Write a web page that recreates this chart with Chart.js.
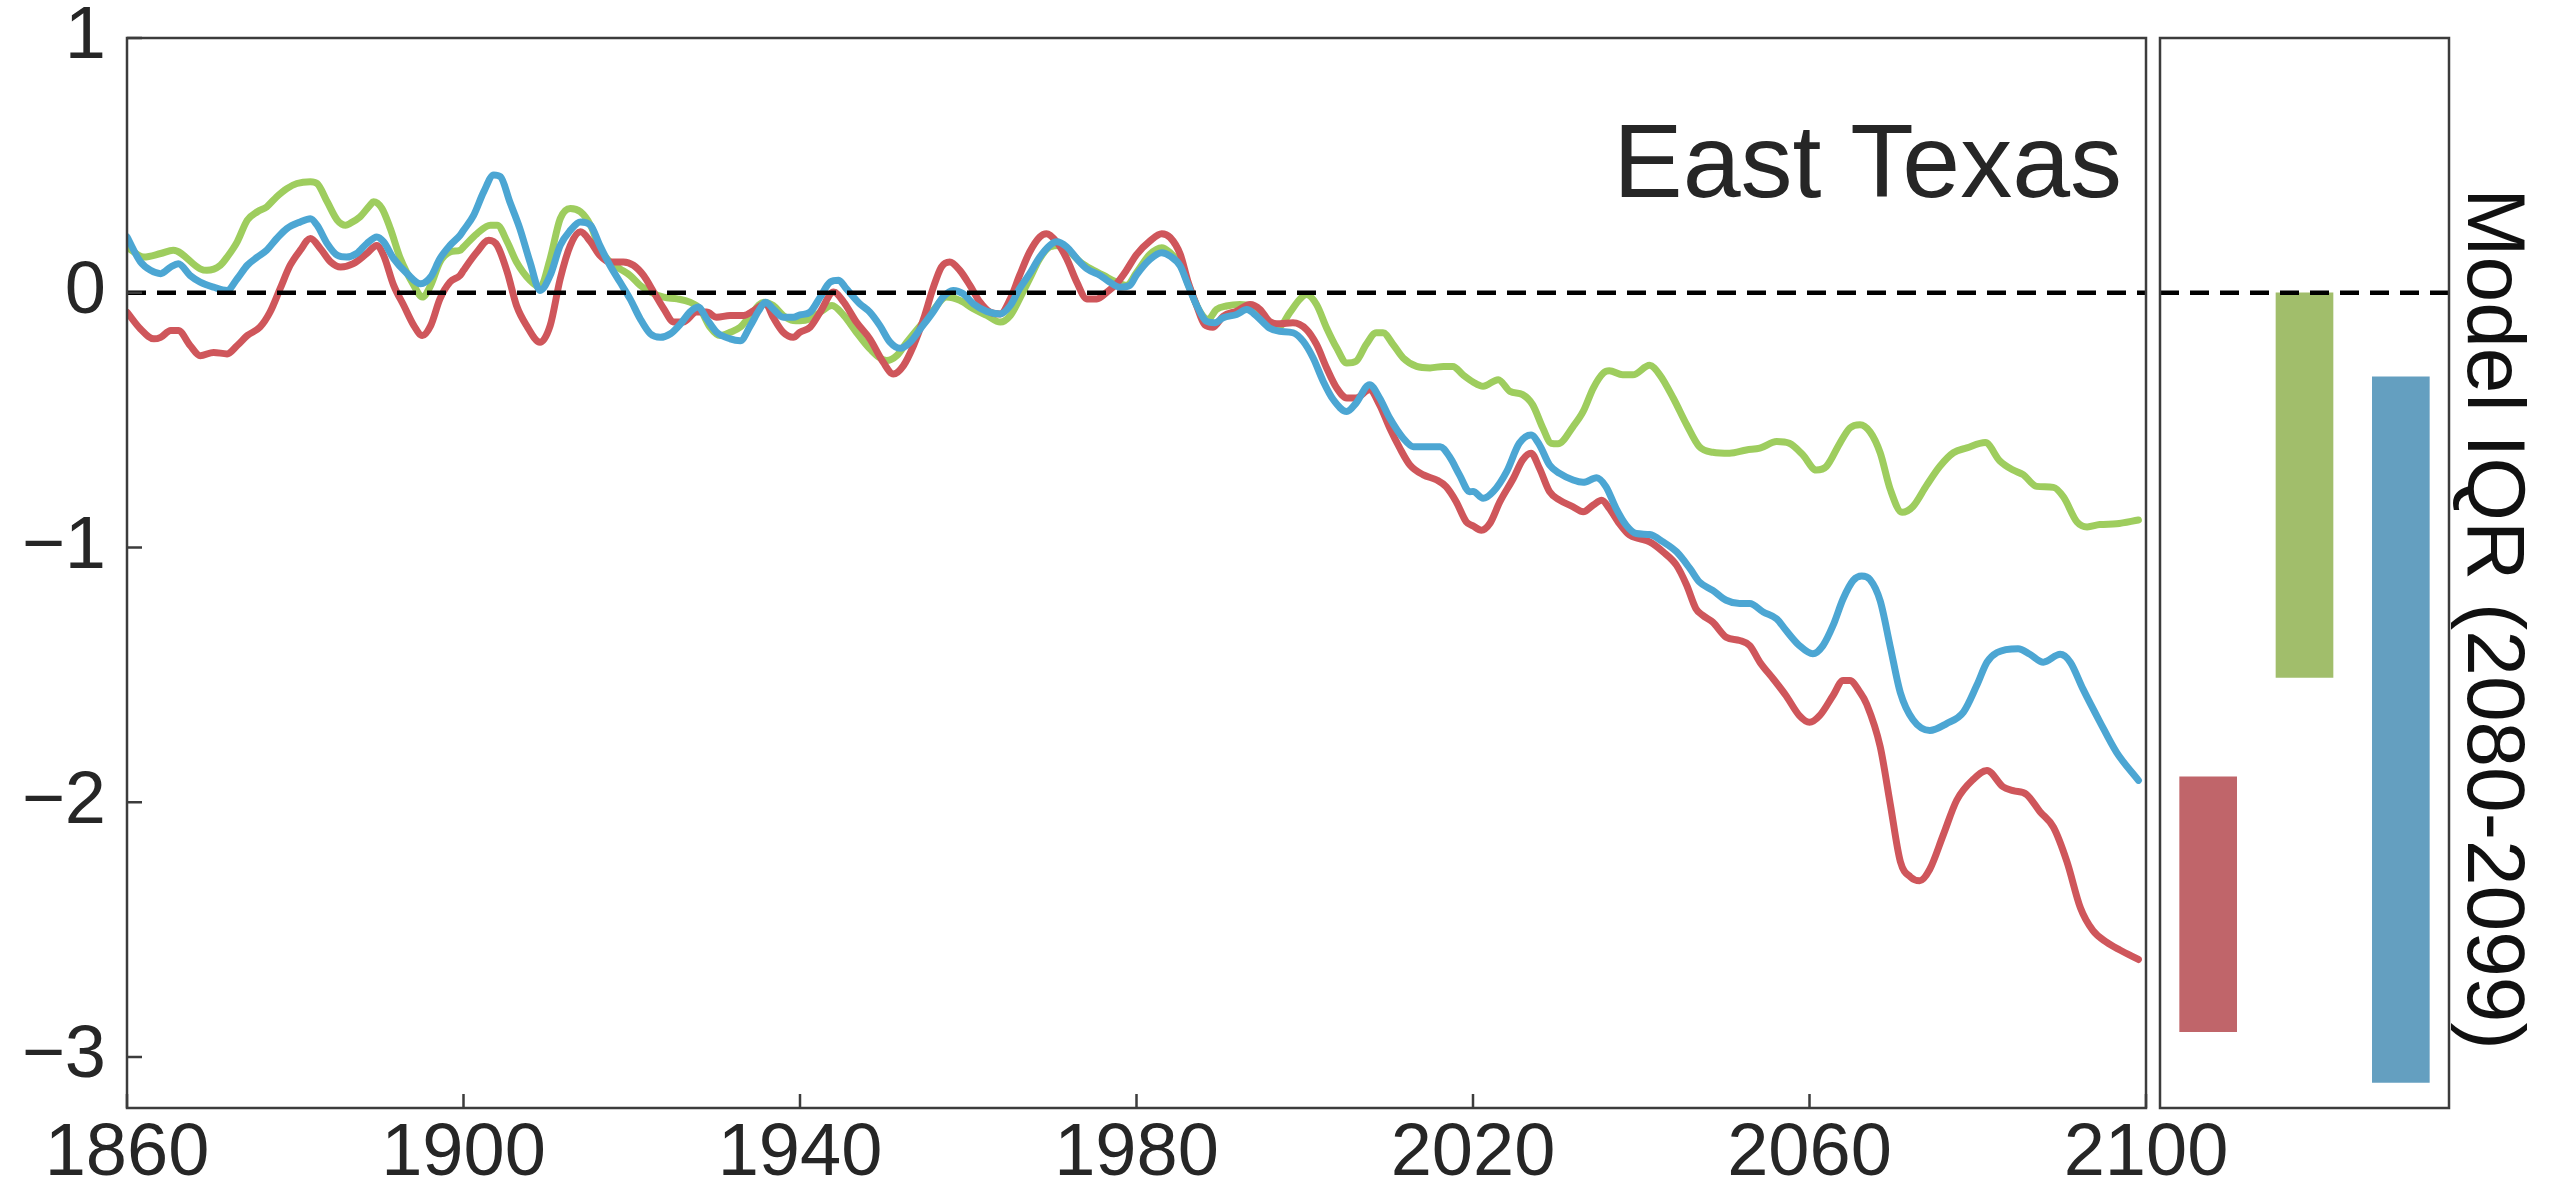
<!DOCTYPE html>
<html>
<head>
<meta charset="utf-8">
<title>East Texas</title>
<script src="https://cdn.jsdelivr.net/npm/chart.js@4.4.1/dist/chart.umd.min.js"></script>
<style>
  html, body { margin: 0; padding: 0; background: #ffffff; }
  #wrap { position: relative; width: 2552px; height: 1187px; overflow: hidden; }
  #main { position: absolute; left: 0; top: 0; }
  #iqr  { position: absolute; left: 2100px; top: 0; }
</style>
</head>
<body>
<div id="wrap">
  <canvas id="main" width="2552" height="1187"></canvas>
  <canvas id="iqr" width="452" height="1187"></canvas>
</div>
<script>
// ---- Data -----------------------------------------------------------------
const regionName = 'East Texas';
const iqrLabel = 'Model IQR (2080-2099)';

const xTickValues = [1860, 1900, 1940, 1980, 2020, 2060, 2100];
const yTickValues = [-3, -2, -1, 0, 1];

// Red series (year, anomaly)
const redYears = [
  1860, 1861.6, 1863.2, 1864, 1865.2, 1866.1, 1867.5, 1868.7, 1870.3, 1871.9,
  1873.1, 1874.3, 1875.8, 1877, 1878.2, 1879.4, 1880.6, 1881.8, 1883, 1884.2,
  1885.4, 1886.9, 1888.5, 1889.7, 1890.5, 1891.7, 1892.9, 1894.1, 1895.1, 1896.1,
  1897.2, 1898.4, 1899.6,
  1900, 1901.6, 1903, 1904, 1905.2, 1906.3, 1907.5, 1909.1, 1910.3, 1911.5,
  1912.7, 1913.9, 1915.1, 1916.2, 1917.4, 1919, 1920.2, 1921.4, 1922.6, 1923.8,
  1925, 1926.1, 1927.7, 1928.9, 1930.1, 1931.7, 1933.3, 1934.5, 1935.9, 1936.8,
  1938, 1939.2,
  1940, 1941.2, 1942.4, 1944, 1945.2, 1946.7, 1948.3, 1949.9, 1951.1, 1952.3,
  1953.5, 1954.7, 1955.8, 1956.8, 1957.8, 1959, 1960.2, 1961.4, 1962.6, 1963.8,
  1965, 1966.1, 1967.3, 1968.5, 1969.3, 1970.5, 1971.7, 1972.9, 1974.1, 1975.3,
  1976.5, 1977.6, 1978.8,
  1980, 1981.6, 1983, 1984, 1985.2, 1986.1, 1987.1, 1988.1, 1989.1, 1990.3,
  1991.9, 1993.5, 1994.7, 1995.8, 1997, 1998.6, 2000.2, 2001.4, 2002.6, 2003.8,
  2005, 2006.1, 2007.7, 2008.9, 2010.1, 2011.3, 2012.5, 2014.1, 2015.7, 2016.8,
  2018, 2019.2,
  2020, 2021, 2022, 2023.2, 2024.8, 2025.9, 2026.9, 2027.9, 2029.1, 2030.3,
  2031.9, 2033.1, 2034.3, 2035.3, 2036.2, 2037.4, 2038.6, 2039.8, 2041, 2042.6,
  2044.2, 2045.4, 2046.5, 2047.3, 2048.5, 2050.1, 2051.7, 2052.9, 2054.1, 2055.7,
  2057.2, 2058.8, 2060, 2061.2, 2062.8, 2064, 2064.8, 2066,
  2066.8, 2068.4, 2069.6, 2070.8, 2072, 2073.1, 2074.3, 2075.9, 2077.5, 2079.5,
  2081.1, 2083, 2084.2, 2085.8, 2087.4, 2089, 2090.6, 2092.2, 2093.7, 2095.3,
  2096.9, 2099.1
];
const redValues = [
  -0.076, -0.142, -0.181, -0.175, -0.148, -0.148, -0.207, -0.247, -0.234, -0.24,
  -0.207, -0.168, -0.135, -0.076, 0.016, 0.108, 0.167, 0.213, 0.173, 0.121,
  0.101, 0.114, 0.154, 0.186, 0.147, 0.029, -0.05, -0.129, -0.168, -0.129,
  -0.024, 0.042, 0.068,
  0.088, 0.16, 0.206, 0.186, 0.081, -0.05, -0.129, -0.194, -0.129, 0.055,
  0.186, 0.239, 0.2, 0.147, 0.121, 0.121, 0.108, 0.068, 0.003, -0.063,
  -0.115, -0.115, -0.076, -0.076, -0.096, -0.089, -0.089, -0.07, -0.043, -0.096,
  -0.155, -0.175,
  -0.155, -0.135, -0.076, 0.003, -0.037, -0.115, -0.181, -0.273, -0.319, -0.286,
  -0.207, -0.102, 0.016, 0.101, 0.121, 0.088, 0.029, -0.037, -0.076, -0.083,
  -0.024, 0.068, 0.16, 0.219, 0.232, 0.2, 0.134, 0.042, -0.024, -0.024,
  0.003, 0.035, 0.088,
  0.15, 0.203, 0.232, 0.217, 0.151, 0.046, -0.046, -0.125, -0.135, -0.092,
  -0.072, -0.046, -0.066, -0.112, -0.122, -0.118, -0.144, -0.203, -0.295, -0.374,
  -0.413, -0.413, -0.381, -0.44, -0.531, -0.61, -0.676, -0.715, -0.735, -0.761,
  -0.82, -0.899,
  -0.915, -0.932, -0.906, -0.82, -0.728, -0.656, -0.63, -0.689, -0.781, -0.814,
  -0.84, -0.86, -0.833, -0.814, -0.846, -0.906, -0.951, -0.965, -0.978, -1.017,
  -1.07, -1.148, -1.24, -1.266, -1.293, -1.352, -1.365, -1.385, -1.45, -1.516,
  -1.581, -1.66, -1.686, -1.66, -1.581, -1.522, -1.522, -1.568,
  -1.615, -1.781, -2.007, -2.233, -2.293, -2.308, -2.263, -2.128, -1.992, -1.909,
  -1.875, -1.939, -1.954, -1.969, -2.037, -2.098, -2.233, -2.414, -2.504, -2.549,
  -2.58, -2.617
];

// Blue series
const blueYears = [
  1860, 1861.6, 1862.8, 1864, 1865.2, 1866.1, 1867.5, 1868.7, 1870.3, 1871.9,
  1873.1, 1874.3, 1875.5, 1876.6, 1877.8, 1879, 1880.6, 1881.8, 1882.6, 1883.8,
  1885, 1886.1, 1887.3, 1888.5, 1889.7, 1890.5, 1891.7, 1893.3, 1894.9, 1896.1,
  1897.2, 1898.4, 1899.6,
  1900, 1901.2, 1902.4, 1903.6, 1904.4, 1905.5, 1906.7, 1907.9, 1909.1, 1910.3,
  1911.5, 1912.7, 1913.9, 1915.1, 1916.2, 1917.4, 1918.6, 1919.8, 1921, 1922.2,
  1923.4, 1924.6, 1925.8, 1926.9, 1927.9, 1928.9, 1930.1, 1931.7, 1932.9, 1934.1,
  1935.1, 1935.9, 1936.8, 1938, 1939.2,
  1940, 1941.2, 1942.4, 1943.6, 1944.6, 1945.5, 1947.1, 1948.3, 1949.5, 1950.7,
  1951.9, 1953.1, 1954.3, 1955.8, 1957, 1958.2, 1959.4, 1960.6, 1962.2, 1963.8,
  1965, 1966.1, 1967.3, 1968.5, 1969.7, 1970.5, 1971.7, 1972.9, 1974.1, 1975.7,
  1976.8, 1978, 1979.2,
  1980, 1981.6, 1983, 1984, 1985.2, 1986.1, 1987.1, 1988.3, 1989.3, 1990.3,
  1991.9, 1993.1, 1994.3, 1995.8, 1997, 1998.6, 1999.8, 2001, 2002.2, 2003.4,
  2005, 2006.1, 2007.7, 2008.9, 2010.1, 2011.7, 2012.9, 2014.5, 2016.1, 2017.2,
  2018.4, 2019.6,
  2020, 2021.2, 2022.4, 2024, 2025.5, 2026.9, 2027.9, 2029.1, 2030.3, 2031.9,
  2033.1, 2034.7, 2035.8, 2037, 2038.2, 2039.4, 2041, 2042.6, 2044.2, 2045.8,
  2046.9, 2048.5, 2050.1, 2051.7, 2052.9, 2054.5, 2056.1, 2057.2, 2058.8, 2060.4,
  2061.6, 2062.8, 2064, 2065.2, 2066.2,
  2067.2, 2068.4, 2069.6, 2070.8, 2072.3, 2074.3, 2076.3, 2078.3, 2079.9, 2081.1,
  2082.3, 2084.8, 2086.2, 2087.8, 2089.8, 2091, 2092.5, 2094.5, 2096.5, 2099.1
];
const blueValues = [
  0.219, 0.121, 0.088, 0.075, 0.101, 0.114, 0.068, 0.042, 0.022, 0.009,
  0.055, 0.108, 0.14, 0.167, 0.213, 0.252, 0.278, 0.291, 0.265, 0.193,
  0.147, 0.14, 0.154, 0.193, 0.219, 0.2, 0.134, 0.075, 0.035, 0.062,
  0.134, 0.186, 0.226,
  0.245, 0.304, 0.396, 0.462, 0.455, 0.357, 0.252, 0.121, 0.009, 0.068,
  0.186, 0.245, 0.278, 0.265, 0.186, 0.108, 0.042, -0.024, -0.102, -0.161,
  -0.175, -0.161, -0.122, -0.076, -0.056, -0.102, -0.155, -0.181, -0.188, -0.129,
  -0.07, -0.037, -0.063, -0.096, -0.096,
  -0.087, -0.076, -0.017, 0.042, 0.049, 0.016, -0.043, -0.076, -0.129, -0.194,
  -0.218, -0.194, -0.142, -0.076, -0.017, 0.009, -0.004, -0.043, -0.073, -0.083,
  -0.05, 0.016, 0.075, 0.14, 0.186, 0.2, 0.18, 0.134, 0.094, 0.068,
  0.042, 0.022, 0.029,
  0.07, 0.131, 0.157, 0.144, 0.105, 0.033, -0.046, -0.112, -0.118, -0.098,
  -0.085, -0.066, -0.092, -0.138, -0.151, -0.157, -0.19, -0.256, -0.348, -0.42,
  -0.466, -0.433, -0.361, -0.413, -0.492, -0.571, -0.604, -0.604, -0.604, -0.643,
  -0.715, -0.781,
  -0.78, -0.807, -0.781, -0.702, -0.591, -0.558, -0.597, -0.676, -0.709, -0.735,
  -0.744, -0.726, -0.761, -0.846, -0.912, -0.945, -0.949, -0.978, -1.017, -1.083,
  -1.135, -1.168, -1.207, -1.22, -1.22, -1.253, -1.28, -1.325, -1.385, -1.417,
  -1.385, -1.306, -1.201, -1.129, -1.112,
  -1.126, -1.209, -1.389, -1.57, -1.676, -1.718, -1.691, -1.646, -1.54, -1.45,
  -1.412, -1.397, -1.419, -1.45, -1.419, -1.45, -1.555, -1.683, -1.804, -1.914
];

// Green series
const greenYears = [
  1860, 1862, 1864, 1865.5, 1868.7, 1869.5, 1871.1, 1871.9, 1873.1, 1874.3,
  1875.5, 1876.6, 1877.8, 1879, 1880.2, 1881.8, 1882.6, 1883.8, 1885, 1886,
  1886.5, 1887.7, 1888.9, 1889.3, 1890.3, 1891.3, 1892.5, 1894.1, 1895.1, 1896.1,
  1897.2, 1898.4, 1899.6,
  1900, 1901.6, 1903.2, 1904, 1905.2, 1906.3, 1907.9, 1909.1, 1910.3, 1911.5,
  1912.7, 1913.9, 1915.1, 1916.2, 1917.4, 1918.6, 1919.8, 1921, 1922.2, 1923.8,
  1925.4, 1926.9, 1928.1, 1929.3, 1930.5, 1931.7, 1932.9, 1934.1, 1935.7, 1936.8,
  1938, 1939.2,
  1940, 1941.2, 1942.4, 1943.8, 1945.2, 1946.7, 1948.3, 1950.3, 1951.5, 1952.7,
  1954.3, 1955.8, 1957.4, 1959, 1960.6, 1962.2, 1963.8, 1965, 1966.1, 1967.3,
  1968.5, 1969.7, 1970.9, 1972.1, 1973.3, 1974.9, 1976.1, 1977.6, 1978.8,
  1980, 1981.6, 1983, 1984, 1985.2, 1986.3, 1987.5, 1988.5, 1989.5, 1990.7,
  1992.3, 1993.5, 1994.7, 1995.8, 1997, 1998.2, 1999.4, 2000.2, 2001.4, 2002.6,
  2003.8, 2005, 2006.1, 2007.3, 2008.5, 2009.3, 2010.5, 2011.7, 2013.3, 2014.9,
  2016.5, 2017.6, 2018.8,
  2020, 2021.2, 2023, 2024.4, 2025.9, 2027.1, 2028.3, 2029.3, 2030.1, 2031.9,
  2033.1, 2034.3, 2035.5, 2036.2, 2037.8, 2039, 2041, 2042.2, 2043.8, 2045.4,
  2046.9, 2048.5, 2050.5, 2052.5, 2054.1, 2056.1, 2057.6, 2059.2, 2060.8, 2062,
  2063.6, 2064.8, 2066,
  2067.2, 2068.4, 2069.6, 2071, 2072.3, 2073.9, 2075.5, 2077.1, 2078.7, 2080.9,
  2082.6, 2084.2, 2085.4, 2087, 2089, 2090.2, 2091.8, 2093, 2094.5, 2096.5,
  2099.1
];
const greenValues = [
  0.18, 0.14, 0.154, 0.167, 0.094, 0.088, 0.108, 0.14, 0.2, 0.285,
  0.318, 0.337, 0.377, 0.409, 0.429, 0.436, 0.429, 0.357, 0.285, 0.265,
  0.272, 0.298, 0.344, 0.357, 0.331, 0.252, 0.134, 0.029, -0.017, 0.029,
  0.121, 0.16, 0.167,
  0.18, 0.232, 0.265, 0.265, 0.2, 0.121, 0.049, 0.022, 0.134, 0.291,
  0.331, 0.318, 0.265, 0.173, 0.121, 0.094, 0.068, 0.029, 0.003, -0.017,
  -0.024, -0.037, -0.063, -0.135, -0.168, -0.155, -0.135, -0.089, -0.037, -0.05,
  -0.089, -0.109,
  -0.11, -0.102, -0.076, -0.05, -0.089, -0.155, -0.22, -0.266, -0.247, -0.194,
  -0.129, -0.07, -0.017, -0.03, -0.063, -0.089, -0.115, -0.089, -0.024, 0.055,
  0.134, 0.18, 0.186, 0.16, 0.121, 0.088, 0.068, 0.042, 0.029,
  0.079, 0.151, 0.177, 0.157, 0.112, 0.02, -0.072, -0.105, -0.066, -0.052,
  -0.046, -0.052, -0.092, -0.125, -0.131, -0.079, -0.026, -0.007, -0.046, -0.138,
  -0.217, -0.276, -0.269, -0.203, -0.157, -0.157, -0.203, -0.256, -0.289, -0.295,
  -0.289, -0.289, -0.322,
  -0.35, -0.367, -0.341, -0.387, -0.4, -0.44, -0.531, -0.591, -0.593, -0.525,
  -0.466, -0.374, -0.315, -0.306, -0.322, -0.322, -0.285, -0.322, -0.413, -0.518,
  -0.604, -0.626, -0.63, -0.617, -0.61, -0.584, -0.591, -0.636, -0.696, -0.682,
  -0.591, -0.531, -0.518,
  -0.546, -0.628, -0.772, -0.862, -0.839, -0.757, -0.681, -0.628, -0.609, -0.588,
  -0.659, -0.696, -0.714, -0.76, -0.764, -0.802, -0.9, -0.919, -0.91, -0.907,
  -0.892
];

// Model interquartile ranges for 2080-2099 (low, high)
const iqrCategories = ['red', 'green', 'blue'];
const iqrLow  = [-2.9, -1.51, -3.1];
const iqrHigh = [-1.9, 0, -0.33];

// ---- Styling --------------------------------------------------------------
const FONT = "'Liberation Sans', Arial, Helvetica, sans-serif";
const TEXT_COLOR = '#262626';
const FRAME_COLOR = '#3c3c3c';
const LINE_COLORS = { red: '#cf565b', green: '#9ecd5e', blue: '#4ca6d3' };
const BAR_COLORS = ['#c0656a', '#a1be6b', '#649fc0'];
const Y_MIN = -3.2, Y_MAX = 1;

const toPoints = (xs, ys) => xs.map((x, i) => ({ x: x, y: ys[i] }));
const fmtY = v => (v < 0 ? '\u2212' + Math.abs(v) : String(v));

function drawZeroLine(ctx, area, yScale) {
  const y0 = yScale.getPixelForValue(0);
  ctx.save();
  ctx.setLineDash([19, 11]);
  ctx.lineWidth = 4.5;
  ctx.strokeStyle = '#000000';
  ctx.beginPath();
  ctx.moveTo(area.left, y0);
  ctx.lineTo(area.right, y0);
  ctx.stroke();
  ctx.restore();
}

function drawFrame(ctx, area) {
  ctx.save();
  ctx.lineWidth = 2.5;
  ctx.strokeStyle = FRAME_COLOR;
  ctx.strokeRect(area.left, area.top, area.right - area.left, area.bottom - area.top);
  ctx.restore();
}

// Frame, inward tick marks, zero reference line and region name
const mainDecor = {
  id: 'mainDecor',
  afterDatasetsDraw(chart) {
    const { ctx, chartArea: a, scales } = chart;
    drawZeroLine(ctx, a, scales.y);
    drawFrame(ctx, a);
    ctx.save();
    ctx.lineWidth = 2.5;
    ctx.strokeStyle = FRAME_COLOR;
    ctx.beginPath();
    yTickValues.forEach(v => {
      const py = scales.y.getPixelForValue(v);
      ctx.moveTo(a.left, py);
      ctx.lineTo(a.left + 15, py);
    });
    xTickValues.forEach(v => {
      const px = scales.x.getPixelForValue(v);
      ctx.moveTo(px, a.bottom);
      ctx.lineTo(px, a.bottom - 14);
    });
    ctx.stroke();
    ctx.font = '104px ' + FONT;
    ctx.fillStyle = TEXT_COLOR;
    ctx.textAlign = 'right';
    ctx.textBaseline = 'alphabetic';
    ctx.fillText(regionName, a.right - 24, a.top + 159);
    ctx.restore();
  }
};

const iqrDecor = {
  id: 'iqrDecor',
  afterDatasetsDraw(chart) {
    const { ctx, chartArea: a, scales } = chart;
    drawZeroLine(ctx, a, scales.y);
    drawFrame(ctx, a);
    ctx.save();
    ctx.translate(a.right + 19, (a.top + a.bottom) / 2 + 46);
    ctx.rotate(Math.PI / 2);
    ctx.font = '82px ' + FONT;
    ctx.fillStyle = '#111111';
    ctx.textAlign = 'center';
    ctx.textBaseline = 'alphabetic';
    ctx.fillText(iqrLabel, 0, 0);
    ctx.restore();
  }
};

// Keep the plotting box fixed: no extra room reserved for overhanging labels
const noScalePadding = s => {
  s.paddingTop = 0;
  s.paddingBottom = 0;
  s.paddingLeft = 0;
  s.paddingRight = 0;
};

// ---- Time series panel ------------------------------------------------------
const lineStyle = color => ({
  borderColor: color,
  backgroundColor: color,
  borderWidth: 7,
  pointRadius: 0,
  fill: false,
  cubicInterpolationMode: 'monotone',
  borderJoinStyle: 'round',
  borderCapStyle: 'round'
});

new Chart(document.getElementById('main'), {
  type: 'line',
  data: {
    datasets: [
      Object.assign({ label: 'blue', data: toPoints(blueYears, blueValues), order: 0 }, lineStyle(LINE_COLORS.blue)),
      Object.assign({ label: 'red', data: toPoints(redYears, redValues), order: 1 }, lineStyle(LINE_COLORS.red)),
      Object.assign({ label: 'green', data: toPoints(greenYears, greenValues), order: 2 }, lineStyle(LINE_COLORS.green))
    ]
  },
  options: {
    responsive: false,
    animation: false,
    parsing: false,
    layout: { padding: { left: 0, right: 406, top: 38, bottom: 0 } },
    scales: {
      x: {
        type: 'linear',
        min: 1860,
        max: 2100,
        afterBuildTicks: s => { s.ticks = xTickValues.map(v => ({ value: v })); },
        afterFit: s => { s.height = 79; noScalePadding(s); },
        grid: { display: false, drawTicks: false },
        border: { display: false },
        ticks: {
          padding: 2,
          autoSkip: false,
          maxRotation: 0,
          color: TEXT_COLOR,
          font: { family: FONT, size: 74 },
          callback: v => String(v)
        }
      },
      y: {
        type: 'linear',
        min: Y_MIN,
        max: Y_MAX,
        afterBuildTicks: s => { s.ticks = yTickValues.map(v => ({ value: v })); },
        afterFit: s => { s.width = 127; noScalePadding(s); },
        grid: { display: false, drawTicks: false },
        border: { display: false },
        ticks: {
          padding: 21,
          color: TEXT_COLOR,
          font: { family: FONT, size: 74 },
          callback: v => fmtY(v)
        }
      }
    },
    plugins: {
      legend: { display: false },
      tooltip: { enabled: false },
      title: { display: false }
    }
  },
  plugins: [mainDecor]
});

// ---- IQR panel ------------------------------------------------------------
new Chart(document.getElementById('iqr'), {
  type: 'bar',
  data: {
    labels: iqrCategories,
    datasets: [{
      data: iqrCategories.map((c, i) => [iqrLow[i], iqrHigh[i]]),
      backgroundColor: BAR_COLORS,
      borderWidth: 0,
      barThickness: 57
    }]
  },
  options: {
    responsive: false,
    animation: false,
    layout: { padding: { left: 60, right: 103, top: 38, bottom: 79 } },
    scales: {
      x: { display: false },
      y: { display: false, min: Y_MIN, max: Y_MAX }
    },
    plugins: {
      legend: { display: false },
      tooltip: { enabled: false }
    }
  },
  plugins: [iqrDecor]
});
</script>
</body>
</html>
